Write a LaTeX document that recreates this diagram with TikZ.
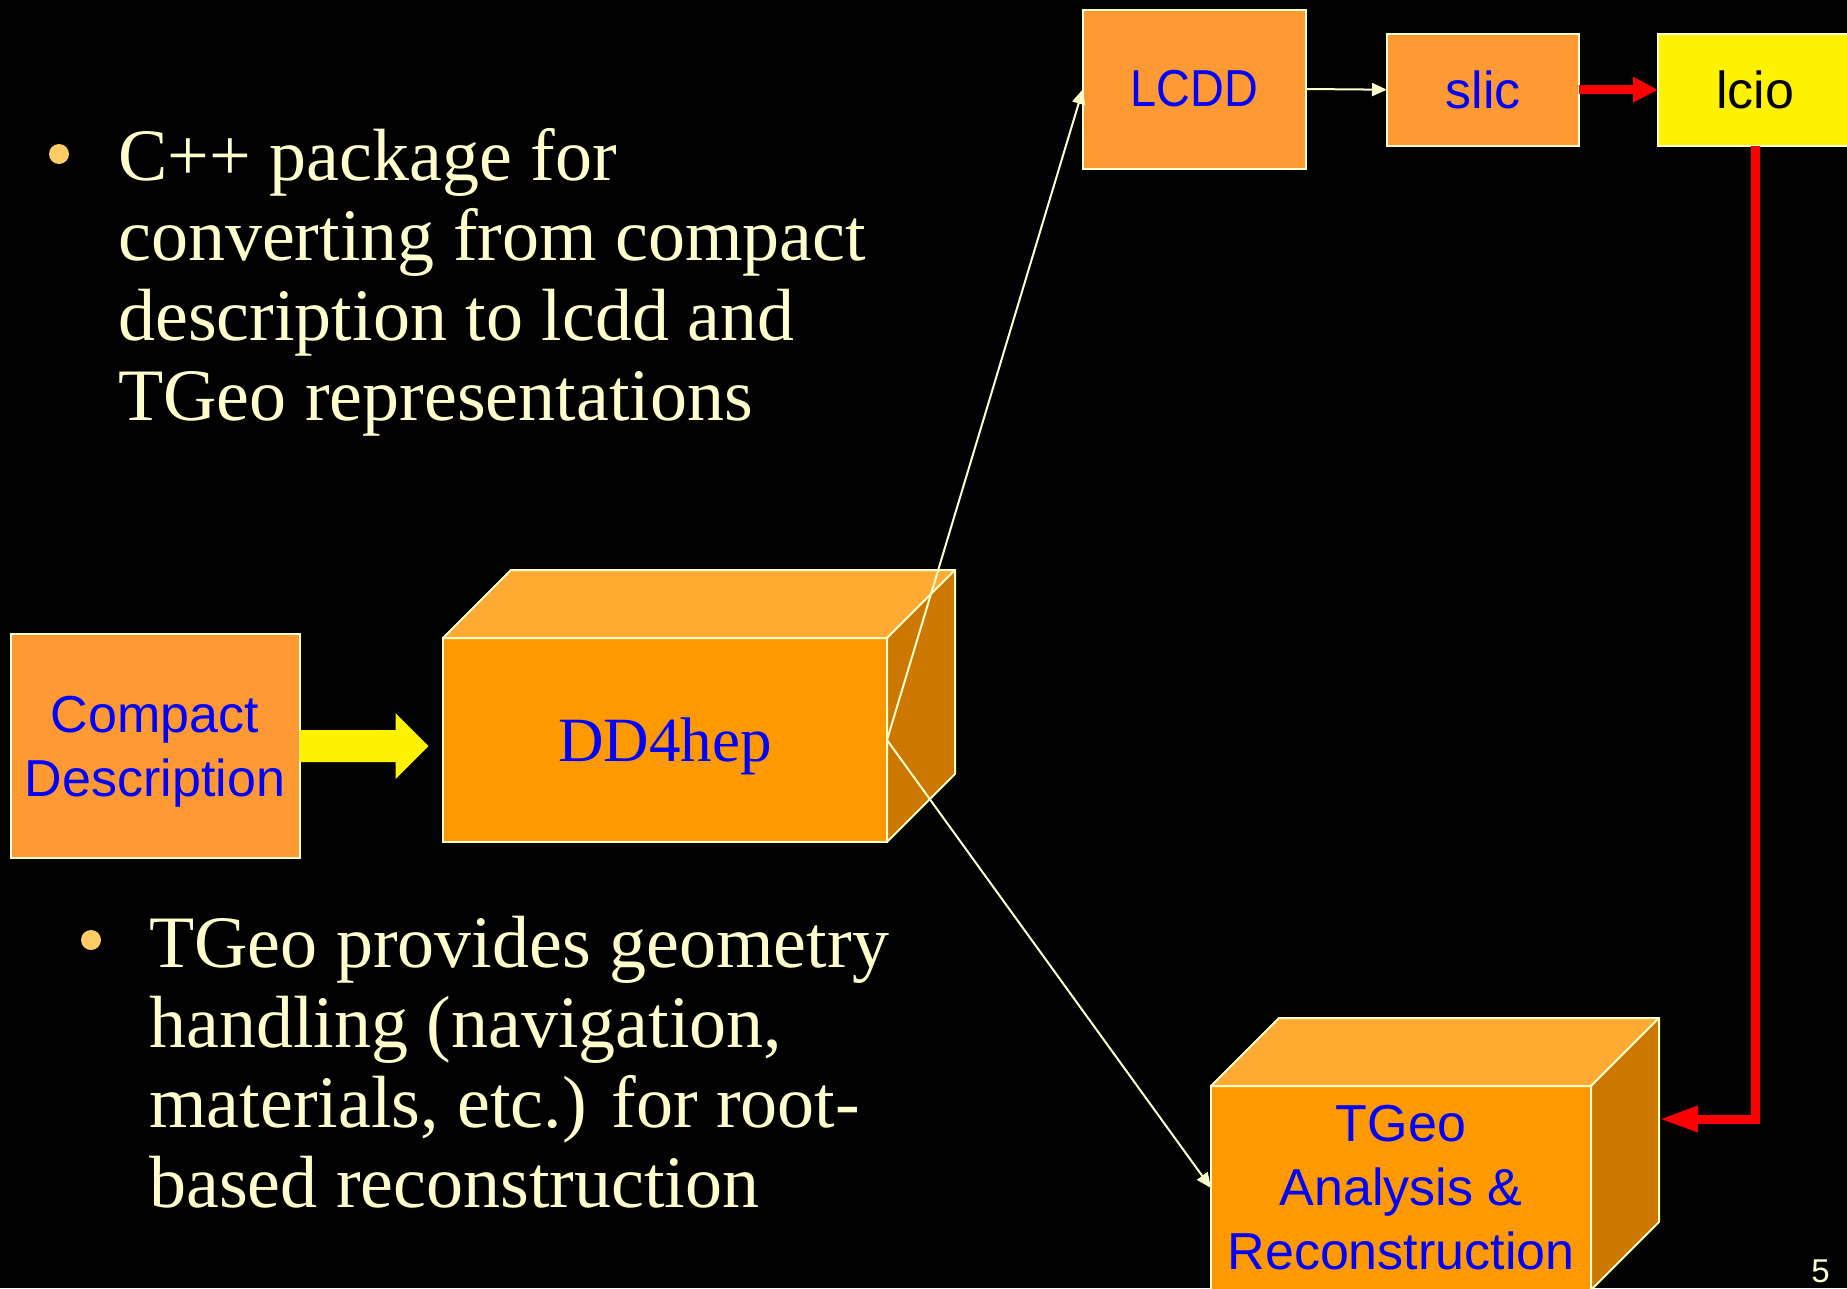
\documentclass[tikz,border=0pt]{standalone}
\usepackage{fontspec}
\setmainfont{Liberation Serif}
\setsansfont{Liberation Sans}
\usetikzlibrary{calc,arrows.meta}
\edef \deep {68}
\definecolor{cream}{HTML}{FFFFCC}
\definecolor{flatorange}{HTML}{FF9933}
\definecolor{cubefront}{HTML}{FF9900}
\definecolor{cubetop}{HTML}{FFAA33}
\definecolor{cubeside}{HTML}{CC7700}
\definecolor{bulletgold}{HTML}{FFCC66}

\begin{document}
\begin{tikzpicture}[x=1pt,y=-1pt,
	flatbox/.style={draw=cream, line width=2pt, fill=flatorange, inner sep=0pt, outer sep=0pt, text=blue, font=\sffamily\fontsize{52}{64}\selectfont},
	cubeface/.style={draw=cream, line width=2pt, fill=cubefront, inner sep=0pt, outer sep=0pt, text=blue},
	cubeside/.style={draw=cream, line width=2pt, line join=round},
	thinarrow/.style={draw=cream, line width=2pt, -{Triangle[length=15pt,width=13pt]}},
	redarrow/.style={draw=red, line width=9pt},
	bulletdot/.style={circle, fill=bulletgold, minimum size=20pt, inner sep=0pt},
	bullettext/.style={text=cream, font=\rmfamily\fontsize{74}{80}\selectfont, align=left, inner sep=0pt, anchor=north west}]

	\path[use as bounding box, fill=black] (0,0) rectangle (1847,1288);

	\node[bulletdot] (dot1) at (59,154) {};
	\node[bullettext] (point1) at (118,128.5) {C++ package for\\converting from compact\\description to lcdd and\\TGeo representations};

	\node[bulletdot] (dot2) at (91,940) {};
	\node[bullettext] (point2) at (149,915.5) {TGeo provides geometry\\handling (navigation,\\materials, etc.) for root-\\based reconstruction};

	\node[flatbox, minimum width=223pt, minimum height=159pt] (lcdd) at (1194.5,89) {\raisebox{-3pt}{\scalebox{0.9}[1]{LCDD}}};
	\node[flatbox, minimum width=192pt, minimum height=112pt] (slic) at (1483,89.7) {\raisebox{-2pt}{slic}};
	\node[flatbox, fill=yellow, text=black, minimum width=194pt, minimum height=112pt] (lcio) at (1755,89.7) {\raisebox{-2pt}{lcio}};
	\node[flatbox, minimum width=289pt, minimum height=224pt, align=center, text depth=0pt] (compact) at (155,746) {Compact\\Description};

	\node[cubeface, minimum width=444pt, minimum height=204pt, text depth=0pt, font=\rmfamily\fontsize{63}{70}\selectfont] (dd4hep) at (665,740) {DD4hep};
	\node[cubeface, minimum width=380pt, minimum height=204pt, align=center, font=\sffamily\fontsize{52}{64}\selectfont] (tgeo) at (1401,1188) {TGeo\\Analysis \&\\Reconstruction};

	\foreach \c in {dd4hep,tgeo}
{
	\filldraw[cubeside, fill=cubetop] (\c.north west) -- ++(\deep,-\deep) -- ($(\c.north east)+(\deep,-\deep)$) -- (\c.north east) -- cycle;
	\filldraw[cubeside, fill=cubeside] (\c.north east) -- ++(\deep,-\deep) -- ($(\c.south east)+(\deep,-\deep)$) -- (\c.south east) -- cycle;
}

	\fill[yellow] (compact.east) ++(0,-16) -- ++(96,0) -- ++(0,-17) -- ++(33,33) -- ++(-33,33) -- ++(0,-17) -- ++(-96,0) -- cycle;

	\coordinate (tgeoin) at ($(tgeo.north east)+(\deep,33)$);

	\draw[thinarrow] (dd4hep.east) -- (lcdd.west);
	\draw[thinarrow] (dd4hep.east) -- (tgeo.west);
	\draw[thinarrow] (lcdd.east) -- (slic.west);
	\draw[redarrow, -{Triangle[length=25pt,width=24pt]}] (slic.east) -- (lcio.west);
	\draw[redarrow, -{Triangle[length=39pt,width=24pt]}] (lcio.south) |- (tgeoin);

	\node[text=cream, font=\sffamily\fontsize{33}{40}\selectfont, inner sep=0pt] (page) at (1820.5,1271) {5};

\end{tikzpicture}
\end{document}
